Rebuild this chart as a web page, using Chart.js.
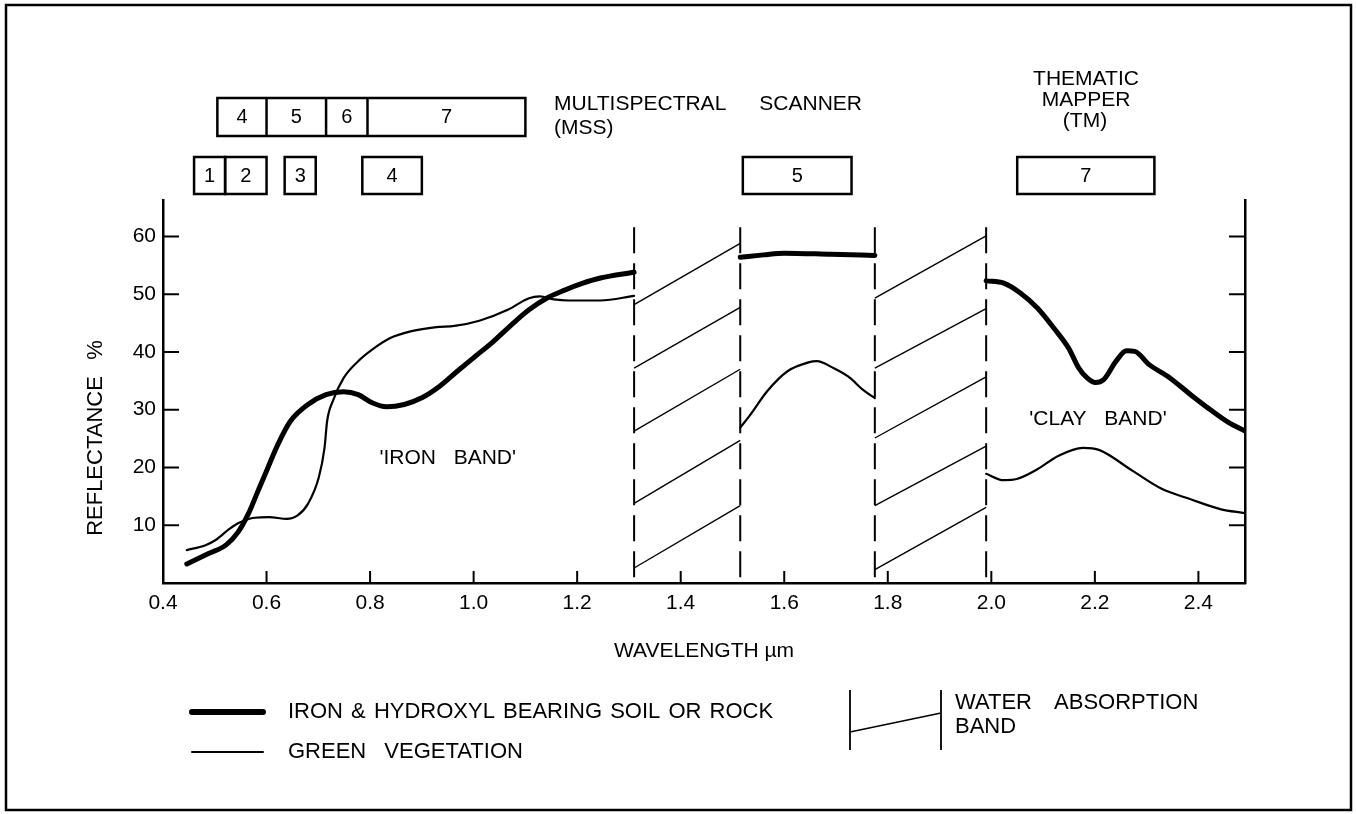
<!DOCTYPE html>
<html>
<head>
<meta charset="utf-8">
<script src="https://cdn.jsdelivr.net/npm/chart.js@4"></script>
<style>
  html, body { margin: 0; padding: 0; background: #fff; }
  #wrap { width: 1356px; height: 814px; }
</style>
</head>
<body>
<div id="wrap"><canvas id="spectre" width="1356" height="814"></canvas></div>
<script>
// [longueur d'onde µm, réflectance %]
const soilVisNir = [[0.446,3.3],[0.488,5.1],[0.522,6.6],[0.545,8.8],[0.565,12.0],[0.582,15.6],[0.600,19.4],
  [0.622,24.0],[0.646,28.0],[0.680,30.9],[0.715,32.6],[0.749,33.1],[0.777,32.6],[0.804,31.2],[0.832,30.5],
  [0.866,30.9],[0.901,32.1],[0.935,34.1],[0.969,36.7],[1.004,39.3],[1.038,41.8],[1.073,44.7],[1.107,47.3],
  [1.141,49.3],[1.176,50.7],[1.211,51.9],[1.245,52.8],[1.31,53.8]];
const soilSwir1 = [[1.515,56.4],[1.56,56.8],[1.60,57.1],[1.69,56.9],[1.775,56.7]];
const soilSwir2 = [[1.99,52.3],[2.024,51.9],[2.056,50.2],[2.089,47.6],[2.121,44.1],[2.149,40.7],[2.169,37.2],
  [2.185,35.5],[2.201,34.7],[2.217,35.2],[2.241,38.4],[2.261,40.2],[2.277,40.1],[2.305,37.8],[2.345,35.5],
  [2.385,32.6],[2.426,29.8],[2.458,27.8],[2.49,26.3]];

const vegVisNir = [[0.446,5.7],[0.481,6.5],[0.501,7.4],[0.529,9.4],[0.549,10.5],[0.577,11.3],[0.605,11.4],
  [0.639,11.1],[0.660,11.7],[0.680,13.7],[0.701,18.3],[0.712,23.4],[0.717,28.0],[0.728,31.5],[0.749,35.5],
  [0.777,38.4],[0.804,40.4],[0.839,42.4],[0.880,43.6],[0.928,44.3],[0.963,44.5],[1.011,45.4],[1.066,47.3],
  [1.107,49.3],[1.128,49.6],[1.155,49.1],[1.183,48.9],[1.245,48.9],[1.31,49.7]];
const vegSwir1 = [[1.515,26.9],[1.535,29.2],[1.567,33.2],[1.607,36.7],[1.647,38.2],[1.663,38.4],[1.695,37.2],
  [1.727,35.5],[1.751,33.5],[1.775,32.0]];
const vegSwir2 = [[1.99,18.9],[2.024,17.8],[2.049,18.0],[2.089,19.7],[2.129,22.0],[2.177,23.4],[2.209,23.0],
  [2.273,19.4],[2.329,16.3],[2.385,14.5],[2.442,12.8],[2.49,12.1]];

// bandes d'absorption de l'eau : bords, hachures (gauche -> droite)
const waterBands = [[1.31, 1.515], [1.775, 1.99]];
const waterTop = 61.6;
const hatchLeft = [[2.6, 13.8, 26.3, 37.2, 48.2], [2.3, 13.4, 25.1, 37.2, 49.3]];
const hatchRight = [[13.4, 24.7, 37.0, 47.7, 58.8], [13.1, 23.7, 35.7, 47.5, 60.1]];

// canaux des capteurs
const mssEdges = [0.505, 0.60, 0.715, 0.795, 1.10];
const mssLabels = ['4', '5', '6', '7'];
const tmBands = [[0.46, 0.52], [0.52, 0.60], [0.635, 0.695], [0.785, 0.90], [1.52, 1.73], [2.05, 2.315]];
const tmLabels = ['1', '2', '3', '4', '5', '7'];

const FONT = '"Liberation Sans", Arial, Helvetica, sans-serif';
Chart.defaults.font.family = FONT;
Chart.defaults.color = '#000';

const pts = arr => arr.map(([x, y]) => ({ x: x, y: y }));

function courbe(data, width) {
    return { data: pts(data), borderColor: '#000', borderWidth: width, pointRadius: 0,
             cubicInterpolationMode: 'monotone', fill: false, borderCapStyle: 'round' };
}

const datasets = [
    courbe(soilVisNir, 5), courbe(soilSwir1, 5), courbe(soilSwir2, 5),
    courbe(vegVisNir, 2.2), courbe(vegSwir1, 2.2), courbe(vegSwir2, 2.2)
];

waterBands.forEach((band, b) => {
    band.forEach(x => {
        // tracé du haut vers le bas pour que le pointillé commence par un trait
        datasets.push({ data: [{ x: x, y: waterTop }, { x: x, y: 0 }], borderColor: '#000',
                        borderWidth: 2, borderDash: [26, 10], pointRadius: 0, tension: 0 });
    });
    hatchLeft[b].forEach((yl, i) => {
        datasets.push({ data: [{ x: band[0], y: yl }, { x: band[1], y: hatchRight[b][i] }],
                        borderColor: '#000', borderWidth: 1.4, pointRadius: 0, tension: 0 });
    });
});

function texte(ctx, str, x, y, align, size, spacing) {
    ctx.font = size + 'px ' + FONT;
    ctx.textAlign = align;
    ctx.textBaseline = 'middle';
    ctx.wordSpacing = (spacing || 0) + 'px';
    ctx.fillText(str, x, y);
    ctx.wordSpacing = '0px';
}

const decor = {
    id: 'decor',
    beforeDraw(chart) {
        const ctx = chart.ctx;
        ctx.save();
        ctx.fillStyle = '#fff';
        ctx.fillRect(0, 0, chart.width, chart.height);
        ctx.restore();
    },
    afterDraw(chart) {
        const ctx = chart.ctx;
        const { x, y } = chart.scales;
        const area = chart.chartArea;
        ctx.save();
        ctx.strokeStyle = '#000';
        ctx.fillStyle = '#000';

        // cadre extérieur
        ctx.lineWidth = 2.5;
        ctx.strokeRect(6, 5, 1345, 805);

        // graduations vers l'intérieur
        ctx.lineWidth = 2;
        ctx.beginPath();
        y.ticks.forEach(t => {
            if (t.value === 0) return;
            const py = y.getPixelForValue(t.value);
            ctx.moveTo(area.left, py); ctx.lineTo(area.left + 16, py);
            ctx.moveTo(area.right, py); ctx.lineTo(area.right - 16, py);
        });
        x.ticks.forEach(t => {
            if (t.value < 0.5) return;
            const px = x.getPixelForValue(t.value);
            ctx.moveTo(px, area.bottom); ctx.lineTo(px, area.bottom - 12);
        });
        ctx.stroke();

        // canaux MSS
        ctx.lineWidth = 2.5;
        const mx = mssEdges.map(v => x.getPixelForValue(v));
        ctx.strokeRect(mx[0], 98, mx[4] - mx[0], 38);
        ctx.beginPath();
        for (let i = 1; i < 4; i++) { ctx.moveTo(mx[i], 98); ctx.lineTo(mx[i], 136); }
        ctx.stroke();
        mssLabels.forEach((l, i) => texte(ctx, l, (mx[i] + mx[i + 1]) / 2, 117, 'center', 20));

        // canaux TM
        tmBands.forEach((b, i) => {
            const x0 = x.getPixelForValue(b[0]), x1 = x.getPixelForValue(b[1]);
            ctx.strokeRect(x0, 157, x1 - x0, 37);
            texte(ctx, tmLabels[i], (x0 + x1) / 2, 176, 'center', 20);
        });

        texte(ctx, 'MULTISPECTRAL', 554, 104, 'left', 21);
        texte(ctx, 'SCANNER', 862, 104, 'right', 21);
        texte(ctx, '(MSS)', 554, 128, 'left', 21);
        texte(ctx, 'THEMATIC', 1086, 79, 'center', 21);
        texte(ctx, 'MAPPER', 1086, 100, 'center', 21);
        texte(ctx, '(TM)', 1085, 121, 'center', 21);

        texte(ctx, "'IRON  BAND'", x.getPixelForValue(0.95), y.getPixelForValue(21.6), 'center', 21, 3);
        texte(ctx, "'CLAY  BAND'", x.getPixelForValue(2.206), y.getPixelForValue(28.4), 'center', 21, 3);

        // titres des axes
        ctx.save();
        ctx.translate(96, 0);
        ctx.rotate(-Math.PI / 2);
        texte(ctx, 'REFLECTANCE', -456, 0, 'center', 22);
        texte(ctx, '%', -350, 0, 'center', 22);
        ctx.restore();
        texte(ctx, 'WAVELENGTH µm', (area.left + area.right) / 2, 651, 'center', 21);

        // légende
        ctx.lineCap = 'round';
        ctx.lineWidth = 6;
        ctx.beginPath(); ctx.moveTo(192, 712); ctx.lineTo(263, 712); ctx.stroke();
        ctx.lineWidth = 2;
        ctx.beginPath(); ctx.moveTo(192, 752); ctx.lineTo(263, 752); ctx.stroke();
        ctx.lineCap = 'butt';
        texte(ctx, 'IRON & HYDROXYL BEARING SOIL OR ROCK', 288, 712, 'left', 22, 2);
        texte(ctx, 'GREEN VEGETATION', 288, 752, 'left', 22, 12);

        ctx.lineWidth = 1.8;
        ctx.beginPath();
        ctx.moveTo(850, 690); ctx.lineTo(850, 750);
        ctx.moveTo(941, 690); ctx.lineTo(941, 750);
        ctx.stroke();
        ctx.lineWidth = 1.4;
        ctx.beginPath(); ctx.moveTo(850, 732); ctx.lineTo(941, 713); ctx.stroke();
        texte(ctx, 'WATER ABSORPTION', 955, 703, 'left', 22, 16);
        texte(ctx, 'BAND', 955, 727, 'left', 22);

        ctx.restore();
    }
};

const axisGrid = { display: true, drawOnChartArea: false, drawTicks: false };
const axisBorder = { display: true, color: '#000', width: 2.5 };

new Chart(document.getElementById('spectre').getContext('2d'), {
    type: 'line',
    data: { datasets: datasets },
    options: {
        responsive: false,
        animation: false,
        layout: { padding: { top: 200, left: 0, right: 0, bottom: 191 } },
        plugins: { legend: { display: false }, tooltip: { enabled: false } },
        scales: {
            x: {
                type: 'linear', min: 0.4, max: 2.49,
                grid: axisGrid, border: axisBorder,
                ticks: { stepSize: 0.2, includeBounds: false, padding: 8, maxRotation: 0, autoSkip: false,
                         font: { size: 21 }, callback: v => v.toFixed(1) },
                afterFit: s => { s.height = 40; }
            },
            y: {
                type: 'linear', position: 'left', min: 0, max: 66.3,
                grid: axisGrid, border: axisBorder,
                ticks: { stepSize: 10, includeBounds: false, padding: 7, font: { size: 21 },
                         callback: v => (v === 0 ? '' : v) },
                afterFit: s => { s.width = 163; }
            },
            y2: {
                type: 'linear', position: 'right', min: 0, max: 66.3,
                grid: axisGrid, border: axisBorder,
                ticks: { display: false, stepSize: 10 },
                afterFit: s => { s.width = 111; }
            }
        }
    },
    plugins: [decor]
});
</script>
</body>
</html>
